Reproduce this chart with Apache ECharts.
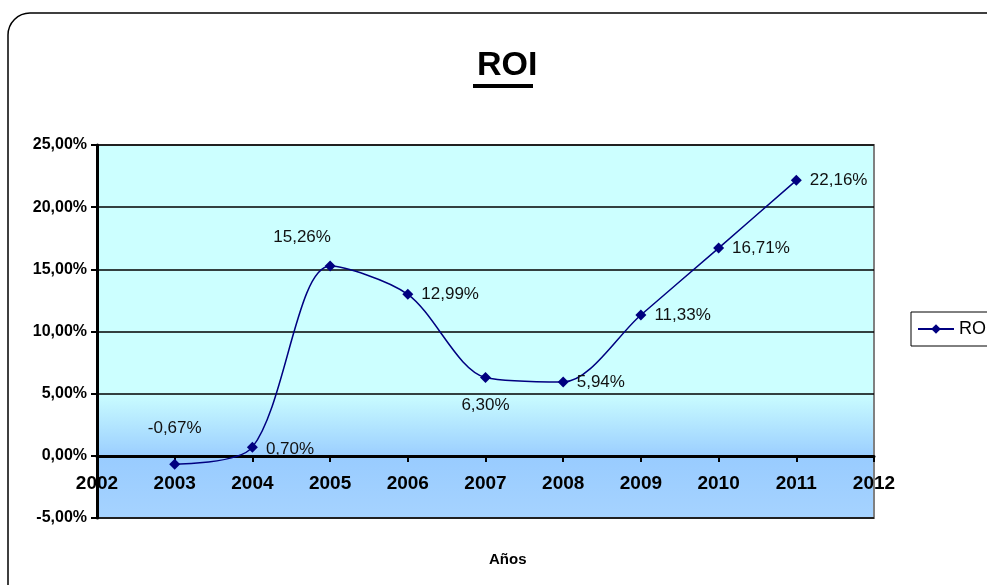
<!DOCTYPE html>
<html>
<head>
<meta charset="utf-8">
<script src="https://cdn.jsdelivr.net/npm/echarts@6/dist/echarts.min.js"></script>
<style>
html,body{margin:0;padding:0;background:#fff;}
#c{width:987px;height:585px;}
</style>
</head>
<body>
<div id="c"></div>
<script>
var years = [2003, 2004, 2005, 2006, 2007, 2008, 2009, 2010, 2011];
var roi = [-0.67, 0.70, 15.26, 12.99, 6.30, 5.94, 11.33, 16.71, 22.16];
var seriesName = 'ROI';
var chartTitle = 'ROI';
var xAxisTitle = 'Años';

function pct(v){ return v.toFixed(2).replace('.', ',') + '%'; }

var labelPos = [
  {position:'top', distance:22},
  {position:'right', distance:8, offset:[0,2]},
  {position:'top', offset:[-28,-10]},
  {position:'right', distance:8},
  {position:'bottom', distance:14},
  {position:'right', distance:8},
  {position:'right', distance:8},
  {position:'right', distance:8},
  {position:'right', distance:8}
];

var data = years.map(function(y,i){
  return {value:[y, roi[i]], label: labelPos[i]};
});

var chart = echarts.init(document.getElementById('c'));
chart.setOption({
  backgroundColor:'#fff',
  animation:false,
  title:[
    {text:chartTitle, left:472, top:44, textStyle:{fontFamily:'Liberation Sans Narrow, Liberation Sans, Arial', fontWeight:'bold', fontSize:34, color:'#000'}},
    {text:xAxisTitle, left:484, top:547, textStyle:{fontFamily:'Liberation Sans, Arial', fontWeight:'bold', fontSize:15, color:'#000'}}
  ],
  graphic:[
    {type:'rect', shape:{x:8, y:13, width:1000, height:620, r:22}, style:{fill:'none', stroke:'#000', lineWidth:1.5}, silent:true, z:-1},
    {type:'rect', shape:{x:473, y:84, width:60, height:4}, style:{fill:'#000'}, silent:true}
  ],
  legend:{
    data:[seriesName], left:911, top:312, orient:'vertical',
    borderColor:'#000', borderWidth:1, padding:[8,10,8,6],
    itemWidth:36, itemHeight:12, itemGap:0,
    textStyle:{fontFamily:'Liberation Sans, Arial', fontSize:18, color:'#000'}
  },
  grid:{
    left:97, right:113, top:145, bottom:67,
    show:true, borderColor:'#808080', borderWidth:2,
    backgroundColor:{type:'linear', x:0, y:0, x2:0, y2:1, colorStops:[
      {offset:0, color:'#CCFFFF'},
      {offset:0.66, color:'#CCFFFF'},
      {offset:0.84, color:'#99CCFF'},
      {offset:1, color:'#A6D3FF'}
    ]}
  },
  xAxis:{
    type:'value', min:2002, max:2012, interval:1, offset:-62,
    axisLine:{onZero:false, lineStyle:{color:'#000', width:3}},
    axisTick:{show:true, inside:false, length:6, lineStyle:{color:'#000', width:2}},
    axisLabel:{margin:18, formatter:function(v){return String(v);}, fontFamily:'Liberation Sans Narrow, Liberation Sans, Arial', fontWeight:'bold', fontSize:19, color:'#000'},
    splitLine:{show:false}
  },
  yAxis:{
    type:'value', min:-5, max:25, interval:5,
    axisLine:{show:true, lineStyle:{color:'#000', width:3}},
    axisTick:{show:true, length:6, lineStyle:{color:'#000', width:2}},
    axisLabel:{margin:10, formatter:function(v){return pct(v);}, fontFamily:'Liberation Sans, Arial', fontWeight:'bold', fontSize:16, color:'#000'},
    splitLine:{show:true, lineStyle:{color:'#000', width:1.5}}
  },
  series:[{
    name:seriesName, type:'line', smooth:0.3,
    data:data,
    symbol:'diamond', symbolSize:11,
    lineStyle:{color:'#000080', width:1.5},
    itemStyle:{color:'#000080'},
    label:{show:true, formatter:function(p){return pct(p.value[1]);}, fontFamily:'Liberation Sans, Arial', fontSize:17, color:'#111'}
  }]
});
</script>
</body>
</html>
